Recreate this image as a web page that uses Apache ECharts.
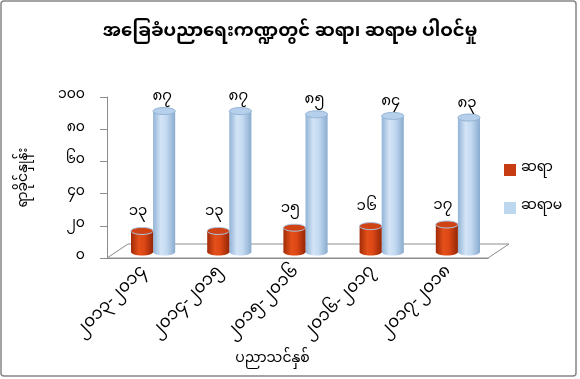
<!DOCTYPE html>
<html>
<head>
<meta charset="utf-8">
<script src="https://cdn.jsdelivr.net/npm/echarts@6/dist/echarts.min.js"></script>
<style>
html,body{margin:0;padding:0;background:#fff;}
#chart{width:580px;height:379px;}
</style>
</head>
<body>
<div id="chart"></div>
<script>
const categories = ['၂၀၁၃-၂၀၁၄', '၂၀၁၄-၂၀၁၅', '၂၀၁၅-၂၀၁၆', '၂၀၁၆-၂၀၁၇', '၂၀၁၇-၂၀၁၈'];
const maleValues = [13, 13, 15, 16, 17];
const femaleValues = [87, 87, 85, 84, 83];
const seriesNames = ['ဆရာ', 'ဆရာမ'];
const titleText = 'အခြေခံပညာရေးကဏ္ဍတွင် ဆရာ၊ ဆရာမ ပါဝင်မှု';
const yAxisName = 'ရာခိုင်နှုန်း';
const xAxisName = 'ပညာသင်နှစ်';

const MY_DIGITS = ['၀','၁','၂','၃','၄','၅','၆','၇','၈','၉'];
function toMy(n) { return String(n).split('').map(c => /[0-9]/.test(c) ? MY_DIGITS[+c] : c).join(''); }

const FONT = '"Noto Sans Myanmar", "Noto Sans", sans-serif';

function cylinder(kind) {
  return function (params, api) {
    const idx = api.value(0), val = api.value(1);
    const top = api.coord([idx, val]);
    const base = api.coord([idx, 0]);
    const band = api.size([1, 0])[0];
    const w = band * 0.29;
    const cx = top[0] + (kind === 0 ? -w / 2 : w / 2);
    const rx = w / 2, ry = 3.5;
    const x0 = cx - rx;
    const grad = kind === 0
      ? new echarts.graphic.LinearGradient(0, 0, 1, 0, [
          {offset: 0, color: '#a02b08'}, {offset: 0.35, color: '#e4501a'},
          {offset: 0.6, color: '#dc4715'}, {offset: 1, color: '#942606'}])
      : new echarts.graphic.LinearGradient(0, 0, 1, 0, [
          {offset: 0, color: '#92b3d6'}, {offset: 0.35, color: '#d3e4f6'},
          {offset: 0.6, color: '#c4daf1'}, {offset: 1, color: '#8aabcf'}]);
    const topFill = kind === 0 ? '#d04315' : '#b6cfea';
    const rim = kind === 0 ? '#a9c7e6' : '#93b4d6';
    return {
      type: 'group',
      children: [
        {type: 'ellipse', shape: {cx: cx, cy: base[1], rx: rx, ry: ry}, style: {fill: grad}},
        {type: 'rect', shape: {x: x0, y: top[1], width: w, height: base[1] - top[1]}, style: {fill: grad}},
        {type: 'ellipse', shape: {cx: cx, cy: top[1], rx: rx, ry: ry}, style: {fill: topFill, stroke: rim, lineWidth: 1}},
        {type: 'text', style: {
          text: toMy(val), x: cx + (kind === 0 ? -4 : -2), y: top[1] - (kind === 0 ? 10 : 5),
          align: 'center', verticalAlign: 'bottom',
          font: '15px ' + FONT, fill: '#000'}}
      ]
    };
  };
}

function floor(params, api) {
  const cs = params.coordSys;
  const dx = 21, dy = -14;
  const fy = cs.y + cs.height;
  return {
    type: 'polygon', silent: true,
    shape: {points: [[cs.x, fy], [cs.x + cs.width, fy], [cs.x + cs.width + dx, fy + dy], [cs.x + dx, fy + dy]]},
    style: {fill: 'none', stroke: '#8c8c8c', lineWidth: 1}
  };
}

const chart = echarts.init(document.getElementById('chart'), null, {renderer: 'canvas'});
chart.setOption({
  backgroundColor: '#fff',
  animation: false,
  title: {
    text: titleText, left: 'center', top: 20,
    textStyle: {fontFamily: FONT, fontSize: 18, fontWeight: 'bold', color: '#000'}
  },
  legend: {
    orient: 'vertical', left: 499, top: 158, itemWidth: 12, itemHeight: 12, itemGap: 24,
    icon: 'rect', data: seriesNames,
    textStyle: {fontFamily: FONT, fontSize: 14, color: '#000'}
  },
  graphic: [{
    type: 'rect', shape: {x: 1, y: 1, width: 575, height: 375, r: 3},
    style: {fill: 'none', stroke: '#868686', lineWidth: 1.5}, silent: true
  }],
  grid: [
    {left: 107, top: 97, width: 381, height: 161},
    {left: 115, top: 90, width: 381, height: 162}
  ],
  xAxis: [
    {type: 'category', gridIndex: 0, data: categories,
     axisLine: {lineStyle: {color: '#8c8c8c'}},
     axisTick: {length: 5, lineStyle: {color: '#8c8c8c'}},
     axisLabel: {rotate: 45, fontFamily: FONT, fontSize: 17, color: '#000', margin: 12},
     name: xAxisName, nameLocation: 'middle', nameGap: 96,
     nameTextStyle: {fontFamily: FONT, fontSize: 14, color: '#000', padding: [0, 50, 0, 0]}},
    {type: 'category', gridIndex: 1, data: categories, show: false}
  ],
  yAxis: [
    {type: 'value', gridIndex: 0, min: 0, max: 100, interval: 20,
     axisLine: {show: true, lineStyle: {color: '#8c8c8c'}},
     axisTick: {show: true, length: 7, lineStyle: {color: '#8c8c8c'}},
     splitLine: {show: false},
     axisLabel: {formatter: v => toMy(v), fontFamily: FONT, fontSize: 14, color: '#000', margin: 22},
     name: yAxisName, nameLocation: 'middle', nameGap: 74, nameRotate: 90,
     nameTextStyle: {fontFamily: FONT, fontSize: 14, color: '#000'}},
    {type: 'value', gridIndex: 1, min: 0, max: 100, show: false}
  ],
  series: [
    {type: 'custom', name: 'floor', xAxisIndex: 0, yAxisIndex: 0, data: [[0, 0]], renderItem: floor, z: 1, silent: true},
    {type: 'custom', name: seriesNames[0], xAxisIndex: 1, yAxisIndex: 1, itemStyle: {color: '#c83c14'},
     data: maleValues.map((v, i) => [i, v]), renderItem: cylinder(0), z: 3},
    {type: 'custom', name: seriesNames[1], xAxisIndex: 1, yAxisIndex: 1, itemStyle: {color: '#bdd7ee'},
     data: femaleValues.map((v, i) => [i, v]), renderItem: cylinder(1), z: 2}
  ]
});
</script>
</body>
</html>
